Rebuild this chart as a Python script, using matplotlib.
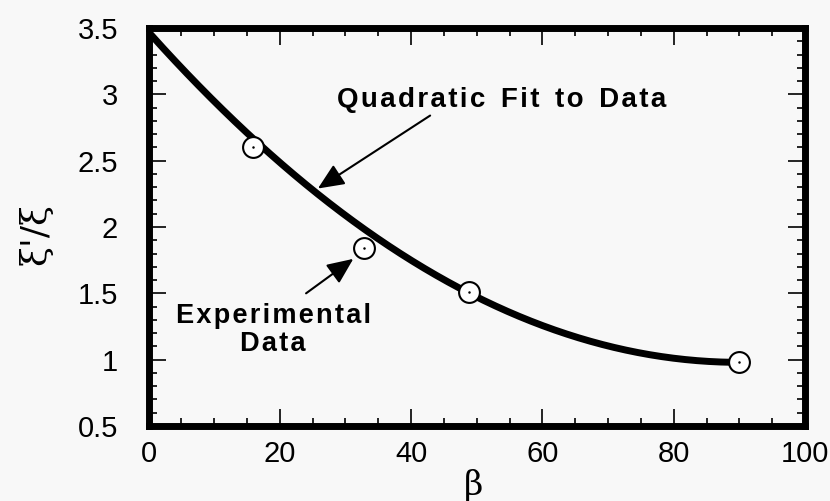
import numpy as np
import matplotlib
matplotlib.use("Agg")
import matplotlib.pyplot as plt
from matplotlib.ticker import MultipleLocator

# Data
beta_exp = [15.9, 32.8, 48.8, 89.9]
ratio_exp = [2.60, 1.84, 1.51, 0.98]
# quadratic fit coefficients (c0 + c1*b + c2*b^2)
fit_coeffs = [3.47, -0.0553, 0.000307]
fit_range = [0.0, 89.9]

x_ticks = [0, 20, 40, 60, 80, 100]
y_ticks = [0.5, 1, 1.5, 2, 2.5, 3, 3.5]
y_tick_labels = ["0.5", "1", "1.5", "2", "2.5", "3", "3.5"]

fit_label = "Quadratic Fit to Data"
exp_label = "Experimental\nData"

HS = "\u200a"  # hair space for letter tracking


def tracked(s):
    return HS.join(list(s))


plt.rcParams['font.family'] = ['Liberation Sans', 'DejaVu Sans']
bg = '#f8f8f8'
W, H = 830, 501
fig = plt.figure(figsize=(W/100, H/100), dpi=100, facecolor=bg)
L, R, T, B = 148.5, 805, 28, 426
ax = fig.add_axes([L/W, 1-B/H, (R-L)/W, (B-T)/H], facecolor=bg)

bb = np.linspace(fit_range[0], fit_range[1], 200)
yy = fit_coeffs[0] + fit_coeffs[1]*bb + fit_coeffs[2]*bb**2
ax.plot(bb, yy, color='black', lw=5, solid_capstyle='butt', zorder=2)
ax.plot(beta_exp, ratio_exp, ls='none', marker='o', ms=15, mfc='white',
        mec='black', mew=1.5, zorder=3)
ax.plot(beta_exp, ratio_exp, ls='none', marker='o', ms=1.8, mfc='black',
        mec='black', mew=0, zorder=4)

ax.set_xlim(0, 100)
ax.set_ylim(0.5, 3.5)
ax.set_xticks(x_ticks)
ax.set_yticks(y_ticks)
ax.set_yticklabels(y_tick_labels)
ax.xaxis.set_minor_locator(MultipleLocator(5))
ax.yaxis.set_minor_locator(MultipleLocator(0.1))
ax.tick_params(which='both', direction='in', top=True, right=True,
               labelsize=21, width=1.2, color='black')
ax.tick_params(which='major', length=12)
ax.tick_params(axis='y', which='major', pad=22)
ax.tick_params(axis='x', which='major', pad=10)
ax.tick_params(which='minor', length=6)
for s in ax.spines.values():
    s.set_linewidth(5)

fig.text(473/W, 1-486/H, 'β', fontsize=24, family=['DejaVu Serif'],
         ha='center', va='center')
fig.text(36/W, 1-234/H, "ξ'/ξ", fontsize=26, family=['DejaVu Serif'],
         ha='center', va='center', rotation=90)

arrow = dict(arrowstyle='-|>,head_length=0.5,head_width=0.22',
             mutation_scale=32, lw=1.5, color='black',
             shrinkA=0, shrinkB=0)
ax.annotate('', xy=(25.8, 2.29), xytext=(42.9, 2.84), arrowprops=arrow)
ax.annotate('', xy=(31.2, 1.76), xytext=(24.0, 1.50), arrowprops=arrow)

ax.text(28.7, 2.96, '  '.join(tracked(w) for w in fit_label.split()),
        fontsize=20, fontweight='bold', ha='left', va='center')
ax.text(19.0, 1.227, '\n'.join(tracked(w) for w in exp_label.split('\n')),
        fontsize=19.5, fontweight='bold', ha='center', va='center',
        linespacing=1.1)

fig.savefig('out.png', dpi=100, facecolor=bg)
